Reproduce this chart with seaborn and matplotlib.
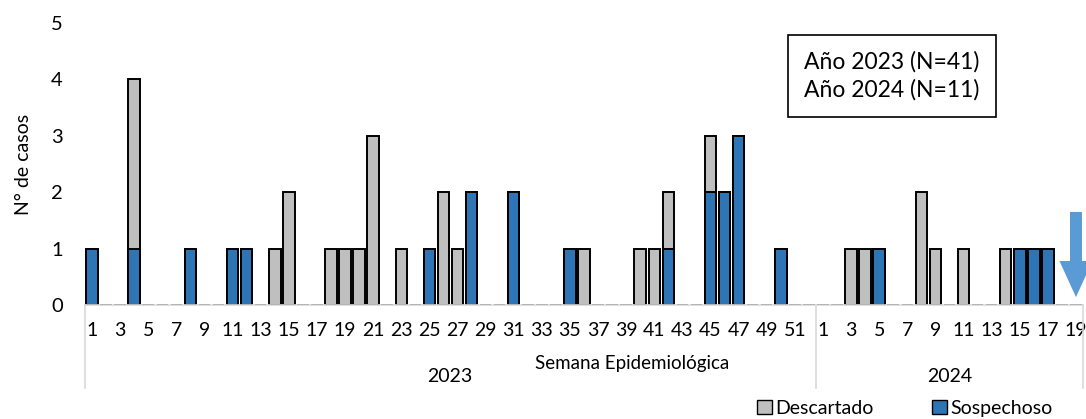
import numpy as np
import pandas as pd
import seaborn as sns
from matplotlib import pyplot as plt
from matplotlib.patches import Patch, FancyArrow
import matplotlib.transforms as mtransforms

# %% Data
weeks_2023 = list(range(1, 53))
weeks_2024 = list(range(1, 20))

# case counts per week (only weeks with cases)
sosp_2023 = {1: 1, 4: 1, 8: 1, 11: 1, 12: 1, 25: 1, 28: 2, 31: 2, 35: 1,
             42: 1, 45: 2, 46: 2, 47: 3, 50: 1}
desc_2023 = {4: 3, 14: 1, 15: 2, 18: 1, 19: 1, 20: 1, 21: 3, 23: 1, 26: 2,
             27: 1, 36: 1, 40: 1, 41: 1, 42: 1, 45: 1}
sosp_2024 = {5: 1, 15: 1, 16: 1, 17: 1}
desc_2024 = {3: 1, 4: 1, 8: 2, 9: 1, 11: 1, 14: 1}

rows = []
for yr, wks, sd, dd in ((2023, weeks_2023, sosp_2023, desc_2023),
                        (2024, weeks_2024, sosp_2024, desc_2024)):
    for w in wks:
        rows.append({'Key': f'{yr}-{w:02d}', 'Year': yr, 'Week': w,
                     'Sospechoso': sd.get(w, 0), 'Descartado': dd.get(w, 0)})
dfData = pd.DataFrame(rows)
dfData['Total'] = dfData['Sospechoso'] + dfData['Descartado']
order = list(dfData['Key'])

COL_SOSP = '#2E75B6'
COL_DESC = '#BFBFBF'

plt.rcParams['font.family'] = ['Lato', 'DejaVu Sans']

# %% Plot
W, H = 1086, 419
fig = plt.figure(figsize=(W / 100, H / 100), dpi=100)
ax = fig.add_axes([85 / W, 1 - 305 / H, (1083 - 85) / W, (305 - 23) / H])

sns.barplot(data=dfData, x='Key', y='Total', order=order, color=COL_DESC,
            width=0.82, edgecolor='black', linewidth=1.4, saturation=1, ax=ax)
sns.barplot(data=dfData, x='Key', y='Sospechoso', order=order, color=COL_SOSP,
            width=0.82, edgecolor='black', linewidth=1.4, saturation=1, ax=ax)

ax.set_xlim(-0.5, len(order) - 0.5)
ax.set_ylim(0, 5)
ax.set_yticks(range(6))
ax.tick_params(axis='y', length=0, labelsize=14.5, pad=16)
ax.tick_params(axis='x', length=0, labelsize=14, pad=12)
ax.set_ylabel('N° de casos', fontsize=14, labelpad=14)
ax.set_xlabel('')

pos = [i for i, k in enumerate(order) if dfData.loc[i, 'Week'] % 2 == 1]
ax.set_xticks(pos)
ax.set_xticklabels([str(dfData.loc[i, 'Week']) for i in pos])

for s in ('top', 'right', 'left'):
    ax.spines[s].set_visible(False)
ax.spines['bottom'].set_color('#D9D9D9')
ax.spines['bottom'].set_linewidth(1.2)

# multi-level category separators
trans = mtransforms.blended_transform_factory(ax.transData, ax.transAxes)
sep_bottom = -(388 - 305) / (305 - 23)
for xs in (-0.5, 51.5, 70.5):
    ax.plot([xs, xs], [0, sep_bottom], color='#D9D9D9', lw=1.2,
            transform=trans, clip_on=False)

fig.text(632 / W, 1 - 363 / H, 'Semana Epidemiológica', fontsize=13.5,
         ha='center', va='center')
fig.text(450 / W, 1 - 376 / H, '2023', fontsize=14, ha='center', va='center')
fig.text(950 / W, 1 - 376 / H, '2024', fontsize=14, ha='center', va='center')

# arrow on last week
ax.add_patch(FancyArrow(70, 1.65, 0, -1.51, width=0.85, head_width=2.35,
                        head_length=0.64, length_includes_head=True,
                        color='#5B9BD5', lw=0, clip_on=False))

# N box
fig.text(892 / W, 1 - 76 / H, 'Año 2023 (N=41)\nAño 2024 (N=11)',
         fontsize=16.5, ha='center', va='center', linespacing=1.4,
         bbox=dict(boxstyle='square,pad=0.7', fc='white', ec='black', lw=1.2))

handles = [Patch(fc=COL_DESC, ec='black', lw=1.0, label='Descartado'),
           Patch(fc=COL_SOSP, ec='black', lw=1.0, label='Sospechoso')]
fig.legend(handles=handles, loc='center', bbox_to_anchor=(905 / W, 1 - 408 / H),
           ncol=2, frameon=False, fontsize=14, handlelength=0.75,
           handleheight=0.75, handletextpad=0.2, columnspacing=3.0)

fig.savefig('out.png', dpi=100)
